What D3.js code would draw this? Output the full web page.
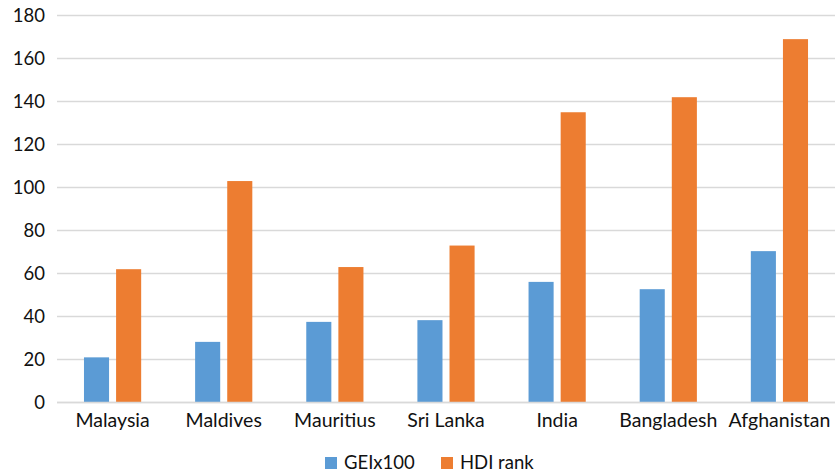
<!DOCTYPE html>
<html>
<head>
<meta charset="utf-8">
<script src="https://cdn.jsdelivr.net/npm/d3@7/dist/d3.min.js"></script>
<style>
  html, body { margin: 0; padding: 0; background: #fff; }
  svg { display: block; font-family: Lato, "Open Sans", sans-serif; }
</style>
</head>
<body>
<svg id="chart" width="835" height="474"></svg>
<script>
const categories = ["Malaysia", "Maldives", "Mauritius", "Sri Lanka", "India", "Bangladesh", "Afghanistan"];
const seriesNames = ["GEIx100", "HDI rank"];
const geiValues = [21, 28.2, 37.5, 38.3, 56.1, 52.7, 70.4];
const hdiValues = [62, 103, 63, 73, 135, 142, 169];
const yTicks = [0, 20, 40, 60, 80, 100, 120, 140, 160, 180];
const colors = ["#5B9BD5", "#ED7D31"];

const seriesValues = [geiValues, hdiValues];
const svg = d3.select("#chart");
const plot = { left: 57, right: 835, top: 15.5, bottom: 402.5 };
const textColor = "#111";

const x = d3.scaleBand().domain(categories).range([plot.left, plot.right]).paddingInner(0).paddingOuter(0);
const xs = d3.scaleBand().domain(seriesNames).range([0, x.bandwidth()]).paddingInner(0.219).paddingOuter(0.84);
const y = d3.scaleLinear().domain([0, 180]).range([plot.bottom, plot.top]);

// horizontal gridlines
svg.append("g")
  .selectAll("line")
  .data(yTicks)
  .join("line")
  .attr("x1", plot.left)
  .attr("x2", plot.right)
  .attr("y1", d => y(d))
  .attr("y2", d => y(d))
  .attr("stroke", "#d9d9d9")
  .attr("stroke-width", 1.3);

// y-axis labels
const yAxis = d3.axisLeft(y).tickValues(yTicks).tickSize(0).tickPadding(0);
const yg = svg.append("g").attr("transform", `translate(${plot.left - 12},0)`).call(yAxis);
yg.select(".domain").remove();
yg.selectAll("text")
  .attr("font-family", "Lato, sans-serif")
  .attr("font-size", 18.5)
  .attr("fill", textColor);

// bars
const groups = svg.append("g")
  .selectAll("g")
  .data(categories)
  .join("g")
  .attr("transform", d => `translate(${x(d)},0)`);

groups.selectAll("rect")
  .data((c, i) => seriesNames.map((s, k) => ({ s, k, v: seriesValues[k][i] })))
  .join("rect")
  .attr("x", d => xs(d.s))
  .attr("width", xs.bandwidth())
  .attr("y", d => y(d.v))
  .attr("height", d => y(0) - y(d.v))
  .attr("fill", d => colors[d.k]);

// baseline
svg.append("line")
  .attr("x1", plot.left).attr("x2", plot.right)
  .attr("y1", y(0)).attr("y2", y(0))
  .attr("stroke", "#d9d9d9").attr("stroke-width", 1.3);

// x-axis labels
const xAxis = d3.axisBottom(x).tickSize(0).tickPadding(0);
const xg = svg.append("g").attr("transform", `translate(0,${plot.bottom + 11})`).call(xAxis);
xg.select(".domain").remove();
xg.selectAll("text")
  .attr("font-family", "Lato, sans-serif")
  .attr("font-size", 19.5)
  .attr("fill", textColor);

// legend
const legendItems = [
  { name: seriesNames[0], color: colors[0], x: 325 },
  { name: seriesNames[1], color: colors[1], x: 441 }
];
const lg = svg.append("g").selectAll("g").data(legendItems).join("g")
  .attr("transform", d => `translate(${d.x},457)`);
lg.append("rect").attr("width", 12).attr("height", 12).attr("fill", d => d.color);
lg.append("text")
  .attr("x", 19).attr("y", 6).attr("dy", "0.35em")
  .attr("font-family", "Lato, sans-serif")
  .attr("font-size", 18.5).attr("fill", textColor)
  .text(d => d.name);
</script>
</body>
</html>
